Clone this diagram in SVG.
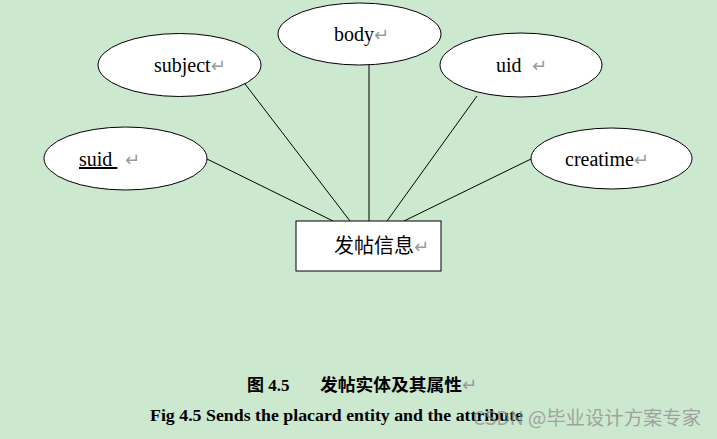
<svg xmlns="http://www.w3.org/2000/svg" width="717" height="439" viewBox="0 0 717 439">
<style>
.attr ellipse{fill:#fff;stroke:#000;stroke-width:1}
.lbl{font-size:20px;fill:#000}
.ret{font-family:'DejaVu Sans',sans-serif;font-size:18px;fill:#9a9a9a;font-weight:normal}
.conn line{stroke:#000;stroke-width:1}
.cap{font-weight:bold;fill:#000}
</style>
<rect x="0" y="0" width="717" height="439" fill="#cce8cf"/>
<g id="connectors" class="conn">
<line x1="207" y1="159" x2="333" y2="221"/>
<line x1="242" y1="80" x2="350" y2="221"/>
<line x1="369" y1="65" x2="369" y2="221"/>
<line x1="477" y1="96" x2="387" y2="221"/>
<line x1="531" y1="159" x2="404" y2="221"/>
</g>
<g id="subject" class="attr">
<ellipse cx="179.5" cy="65" rx="81.5" ry="31.5"/>
<text class="lbl" font-family="'Liberation Serif', serif" x="154" y="72">subject<tspan class="ret">↵</tspan></text>
</g>
<g id="body" class="attr">
<ellipse cx="359.5" cy="34" rx="81.5" ry="31"/>
<text class="lbl" font-family="'Liberation Serif', serif" x="334" y="41">body<tspan class="ret">↵</tspan></text>
</g>
<g id="uid" class="attr">
<ellipse cx="521" cy="65" rx="81" ry="32"/>
<text class="lbl" font-family="'Liberation Serif', serif" x="496" y="72">uid<tspan class="ret" x="532">↵</tspan></text>
</g>
<g id="suid" class="attr">
<ellipse cx="125.5" cy="158.5" rx="81.5" ry="31.5"/>
<text class="lbl" font-family="'Liberation Serif', serif" x="79" y="166"><tspan text-decoration="underline">suid </tspan><tspan class="ret" x="125">↵</tspan></text>
</g>
<g id="creatime" class="attr">
<ellipse cx="611.5" cy="158.5" rx="80.5" ry="30.5"/>
<text class="lbl" font-family="'Liberation Serif', serif" x="565" y="166">creatime<tspan class="ret">↵</tspan></text>
</g>
<g id="entity">
<rect x="296" y="221" width="145" height="50" fill="#fff" stroke="#000" stroke-width="1"/>
<text class="lbl" font-family="'Noto Sans CJK SC', sans-serif" x="334" y="253">发帖信息<tspan class="ret">↵</tspan></text>
</g>
<text class="cap" font-family="'Liberation Serif', 'Noto Sans CJK SC', serif" x="247" y="391" font-size="17">图 4.5</text>
<text class="cap" font-family="'Noto Sans CJK SC', sans-serif" x="320" y="391" font-size="17" textLength="142" lengthAdjust="spacingAndGlyphs">发帖实体及其属性</text>
<text class="ret" x="462" y="391">↵</text>
<text class="cap" font-family="'Liberation Serif', serif" x="150" y="421" font-size="17.5" textLength="373" lengthAdjust="spacingAndGlyphs">Fig 4.5 Sends the placard entity and the attribute</text>
<text x="473" y="425" font-family="'Noto Sans CJK SC', sans-serif" font-size="19" fill="#8c8c8c" fill-opacity="0.75" textLength="228" lengthAdjust="spacingAndGlyphs">CSDN @毕业设计方案专家</text>
</svg>
